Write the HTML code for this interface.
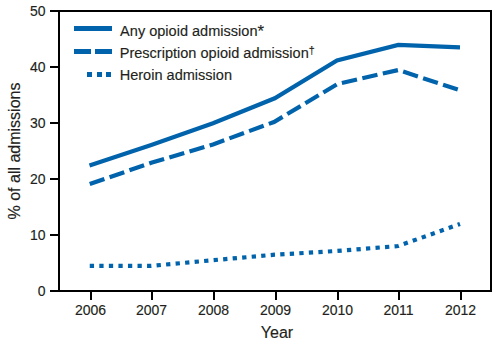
<!DOCTYPE html>
<html><head><meta charset="utf-8">
<style>
html,body{margin:0;padding:0;background:#fff;}
body{width:504px;height:347px;overflow:hidden;}
svg{display:block;}
text{font-family:"Liberation Sans",sans-serif;fill:#231f20;stroke:#231f20;stroke-width:0.15px;}
</style></head>
<body>
<svg width="504" height="347" viewBox="0 0 504 347">
<rect x="0" y="0" width="504" height="347" fill="#fff"/>
<!-- frame -->
<rect x="59" y="11" width="432" height="280" fill="none" stroke="#000" stroke-width="2"/>
<!-- y ticks -->
<g stroke="#000" stroke-width="2">
<line x1="50" y1="11" x2="58" y2="11"/>
<line x1="50" y1="67" x2="58" y2="67"/>
<line x1="50" y1="123" x2="58" y2="123"/>
<line x1="50" y1="179" x2="58" y2="179"/>
<line x1="50" y1="235" x2="58" y2="235"/>
<line x1="50" y1="291" x2="58" y2="291"/>
</g>
<!-- x ticks -->
<g stroke="#000" stroke-width="2">
<line x1="91" y1="292" x2="91" y2="300"/>
<line x1="152" y1="292" x2="152" y2="300"/>
<line x1="214" y1="292" x2="214" y2="300"/>
<line x1="276" y1="292" x2="276" y2="300"/>
<line x1="338" y1="292" x2="338" y2="300"/>
<line x1="399" y1="292" x2="399" y2="300"/>
<line x1="461" y1="292" x2="461" y2="300"/>
</g>
<g font-size="14" text-anchor="end">
<text x="45.6" y="16">50</text>
<text x="45.6" y="72">40</text>
<text x="45.6" y="128">30</text>
<text x="45.6" y="184">20</text>
<text x="45.6" y="240">10</text>
<text x="45.6" y="296">0</text>
</g>
<g font-size="14" text-anchor="middle">
<text x="90.5" y="315">2006</text>
<text x="151.5" y="315">2007</text>
<text x="213.5" y="315">2008</text>
<text x="275.5" y="315">2009</text>
<text x="337.5" y="315">2010</text>
<text x="398.5" y="315">2011</text>
<text x="460.5" y="315">2012</text>
</g>
<text x="277" y="338" font-size="16" text-anchor="middle">Year</text>
<text transform="translate(19.5,151) rotate(-90)" x="0" y="0" font-size="16" text-anchor="middle">% of all admissions</text>
<!-- legend -->
<g stroke="#0063ab" stroke-width="5" fill="none">
<line x1="74" y1="28.5" x2="112" y2="28.5"/>
<line x1="74" y1="51.5" x2="91" y2="51.5"/>
<line x1="95" y1="51.5" x2="112" y2="51.5"/>
</g>
<g fill="#0063ab">
<rect x="87" y="72" width="5" height="5"/>
<rect x="97" y="72" width="5" height="5"/>
<rect x="106" y="72" width="5" height="5"/>
</g>
<g font-size="15.5">
<text transform="translate(120.1,35.8) scale(0.939,1)">Any opioid admission</text>
<text x="257.6" y="36.9" font-size="16.8">*</text>
<text transform="translate(119.7,58) scale(0.939,1)">Prescription opioid admission</text>
<text x="308.8" y="54.4" font-size="10.7">†</text>
<text transform="translate(119.7,79.8) scale(0.939,1)">Heroin admission</text>
</g>
<!-- data -->
<g fill="none" stroke="#0063ab" stroke-width="4.2" stroke-linejoin="miter">
<polyline points="89.5,165.5 151.25,145 213,123.2 274.75,98.3 337,60.5 398.25,44.9 460,47.4"/>
<polyline stroke-dasharray="15.5 5.5" points="89.75,184.1 151.25,162.8 213,144.4 274,122 337.5,84 398.3,70 460,90.3"/>
<polyline stroke-dasharray="4.3 5.25" points="89.75,265.9 151.25,265.9 213,260.2 274.75,254.7 336.5,251 398.25,246 460,224"/>
</g>
</svg>
</body></html>
